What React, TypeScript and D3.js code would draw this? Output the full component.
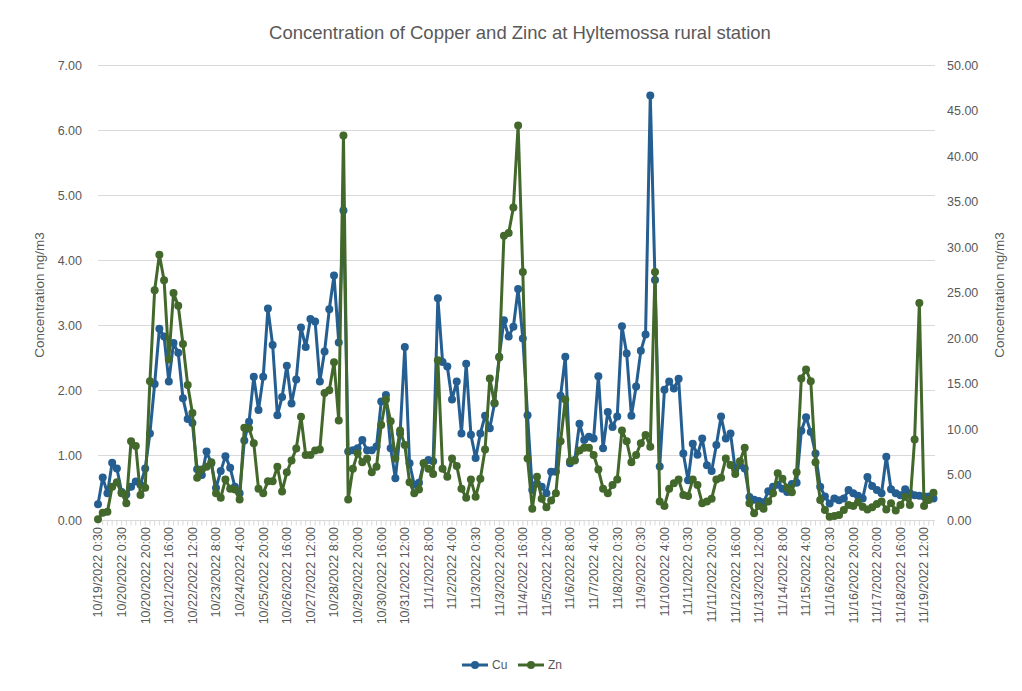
import React from "react";
import * as d3 from "d3";

// Category axis labels, one every five samples
const tickLabels = [
  "10/19/2022 0:30", "10/20/2022 0:30", "10/20/2022 20:00", "10/21/2022 16:00",
  "10/22/2022 12:00", "10/23/2022 8:00", "10/24/2022 4:00", "10/25/2022 20:00",
  "10/26/2022 16:00", "10/27/2022 12:00", "10/28/2022 8:00", "10/29/2022 20:00",
  "10/30/2022 16:00", "10/31/2022 12:00", "11/1/2022 8:00", "11/2/2022 4:00",
  "11/3/2022 0:30", "11/3/2022 20:00", "11/4/2022 16:00", "11/5/2022 12:00",
  "11/6/2022 8:00", "11/7/2022 4:00", "11/8/2022 0:30", "11/9/2022 0:30",
  "11/10/2022 4:00", "11/11/2022 0:30", "11/11/2022 20:00", "11/12/2022 16:00",
  "11/13/2022 12:00", "11/14/2022 8:00", "11/15/2022 4:00", "11/16/2022 0:30",
  "11/16/2022 20:00", "11/17/2022 20:00", "11/18/2022 16:00", "11/19/2022 12:00",
];
const labelEvery = 5;

// Copper, ng/m3 (left axis)
const cu = [
  0.25, 0.66, 0.42, 0.89, 0.80, 0.44, 0.40, 0.52, 0.60, 0.55,
  0.80, 1.34, 2.10, 2.95, 2.83, 2.14, 2.73, 2.58, 1.88, 1.56,
  1.50, 0.79, 0.70, 1.06, 0.88, 0.50, 0.76, 0.99, 0.81, 0.52,
  0.42, 1.23, 1.52, 2.21, 1.70, 2.21, 3.26, 2.70, 1.62, 1.90,
  2.38, 1.80, 2.17, 2.97, 2.67, 3.10, 3.06, 2.14, 2.60, 3.25,
  3.77, 2.74, 4.77, 1.06, 1.08, 1.11, 1.24, 1.08, 1.08, 1.14,
  1.83, 1.93, 1.11, 0.65, 1.34, 2.67, 0.88, 0.55, 0.58, 0.88,
  0.93, 0.91, 3.42, 2.44, 2.37, 1.86, 2.14, 1.34, 2.41, 1.32,
  0.96, 1.34, 1.61, 1.42, 1.80, 2.52, 3.08, 2.83, 2.98, 3.56,
  2.80, 1.62, 0.47, 0.57, 0.52, 0.42, 0.75, 0.75, 1.92, 2.52,
  0.88, 0.93, 1.49, 1.24, 1.29, 1.26, 2.22, 1.11, 1.67, 1.44,
  1.60, 2.99, 2.57, 1.61, 2.06, 2.61, 2.86, 6.54, 3.70, 0.83,
  2.01, 2.14, 2.03, 2.18, 1.03, 0.62, 1.18, 1.01, 1.26, 0.85,
  0.76, 1.16, 1.60, 1.26, 1.34, 0.78, 0.85, 0.80, 0.36, 0.32,
  0.30, 0.28, 0.45, 0.52, 0.55, 0.49, 0.44, 0.56, 0.58, 1.38,
  1.59, 1.36, 1.03, 0.52, 0.37, 0.26, 0.34, 0.31, 0.34, 0.47,
  0.42, 0.38, 0.34, 0.67, 0.53, 0.47, 0.42, 0.98, 0.48, 0.42,
  0.39, 0.48, 0.42, 0.39, 0.38, 0.37, 0.37, 0.34,
];

// Zinc, ng/m3 (right axis)
const zn = [
  0.13, 0.86, 0.97, 3.7, 4.2, 3.0, 1.9, 8.7, 8.2, 2.8,
  3.6, 15.3, 25.3, 29.2, 26.4, 17.7, 25.0, 23.6, 19.4, 14.9,
  11.8, 4.7, 5.6, 5.9, 6.4, 3.0, 2.5, 4.5, 3.5, 3.4,
  2.3, 10.2, 10.1, 8.5, 3.5, 3.0, 4.3, 4.3, 5.9, 3.2,
  5.3, 6.6, 7.9, 11.4, 7.2, 7.2, 7.7, 7.8, 14.0, 14.3,
  17.4, 11.0, 42.3, 2.3, 5.7, 7.4, 6.4, 6.8, 5.3, 5.9,
  10.5, 13.3, 10.9, 6.8, 9.9, 8.3, 4.2, 3.0, 3.4, 6.3,
  5.7, 5.1, 17.6, 5.7, 4.8, 6.8, 6.0, 3.5, 2.5, 4.5,
  2.6, 4.6, 7.8, 15.6, 12.9, 17.9, 31.3, 31.6, 34.4, 43.4,
  27.3, 6.8, 1.3, 4.8, 2.4, 1.45, 2.2, 3.0, 8.7, 13.3,
  6.5, 6.6, 7.7, 8.0, 8.0, 7.2, 5.6, 3.5, 3.0, 3.9,
  4.5, 9.9, 8.7, 6.4, 7.2, 8.5, 9.4, 8.1, 27.3, 2.1,
  1.6, 3.5, 4.1, 4.5, 2.8, 2.7, 4.5, 3.9, 1.9, 2.1,
  2.4, 4.5, 4.7, 6.8, 6.1, 5.1, 6.5, 8.0, 1.9, 0.8,
  1.6, 1.3, 2.1, 3.0, 5.2, 4.6, 3.6, 3.1, 5.3, 15.6,
  16.6, 15.3, 6.4, 2.25, 1.15, 0.4, 0.5, 0.6, 1.15, 1.7,
  1.6, 2.0, 1.5, 1.2, 1.45, 1.8, 2.1, 1.2, 1.9, 1.1,
  1.7, 2.6, 1.7, 8.9, 23.9, 1.6, 2.25, 3.05,
];

const leftTicks = [0, 1, 2, 3, 4, 5, 6, 7];
const rightTicks = [0, 5, 10, 15, 20, 25, 30, 35, 40, 45, 50];

const seriesMeta = [
  { name: "Cu", values: cu, axis: "left", color: "#255e91" },
  { name: "Zn", values: zn, axis: "right", color: "#43682b" },
];

const W = 1022;
const H = 691;
const M = { left: 98, right: 933.5, top: 65.5, bottom: 520.5 };
const FONT = "'Liberation Sans', Arial, sans-serif";
const TEXT = "#595959";
const GRID = "#d9d9d9";
const R = 4;

export default function App() {
  const n = cu.length;
  const x = d3.scaleLinear().domain([0, n - 1]).range([M.left, M.right]);
  const yL = d3.scaleLinear().domain([0, 7]).range([M.bottom, M.top]);
  const yR = d3.scaleLinear().domain([0, 50]).range([M.bottom, M.top]);

  const lineL = d3.line<number>().x((_, i) => x(i)).y((d) => yL(d));
  const lineR = d3.line<number>().x((_, i) => x(i)).y((d) => yR(d));

  const idx = d3.range(n);

  return (
    <svg
      width={W}
      height={H}
      style={{ position: "absolute", left: 0, top: 0, background: "#fff" }}
      fontFamily={FONT}
    >
      <rect x={0} y={0} width={W} height={H} fill="#fff" />
      <text x={520} y={39} textAnchor="middle" fontSize={18.5} fill={TEXT}>
        Concentration of Copper and Zinc at Hyltemossa rural station
      </text>

      {/* horizontal gridlines from the primary axis */}
      {leftTicks.map((t) => (
        <line key={"g" + t} x1={M.left} x2={M.right + 1.5} y1={yL(t)} y2={yL(t)} stroke={GRID} strokeWidth={1} />
      ))}

      {/* category tick marks */}
      {idx.map((i) => (
        <line key={"t" + i} x1={x(i)} x2={x(i)} y1={M.bottom} y2={M.bottom + 5} stroke={GRID} strokeWidth={1} />
      ))}

      {/* left axis labels */}
      {leftTicks.map((t) => (
        <text key={"l" + t} x={82} y={yL(t)} dy="0.35em" textAnchor="end" fontSize={12.5} fill={TEXT}>
          {t.toFixed(2)}
        </text>
      ))}
      {/* right axis labels */}
      {rightTicks.map((t) => (
        <text key={"r" + t} x={947} y={yR(t)} dy="0.35em" textAnchor="start" fontSize={12.5} fill={TEXT}>
          {t.toFixed(2)}
        </text>
      ))}

      {/* category labels */}
      {tickLabels.map((lab, k) => {
        const cx = x(k * labelEvery);
        return (
          <text
            key={"c" + k}
            transform={`translate(${cx},527) rotate(-90)`}
            dy="0.35em"
            textAnchor="end"
            fontSize={12.5}
            fill={TEXT}
          >
            {lab}
          </text>
        );
      })}

      {/* axis titles */}
      <text transform="translate(44,295) rotate(-90)" textAnchor="middle" fontSize={13.5} fill={TEXT}>
        Concentration ng/m3
      </text>
      <text transform="translate(1004,295) rotate(-90)" textAnchor="middle" fontSize={13.5} fill={TEXT}>
        Concentration ng/m3
      </text>

      {/* series */}
      {seriesMeta.map((s) => {
        const ln = s.axis === "left" ? lineL : lineR;
        const ys = s.axis === "left" ? yL : yR;
        return (
          <g key={s.name}>
            <path d={ln(s.values) || ""} fill="none" stroke={s.color} strokeWidth={3} strokeLinejoin="round" />
            {s.values.map((v, i) => (
              <circle key={i} cx={x(i)} cy={ys(v)} r={R} fill={s.color} />
            ))}
          </g>
        );
      })}

      {/* legend */}
      {seriesMeta.map((s, k) => {
        const lx = 462 + k * 56;
        return (
          <g key={"lg" + s.name}>
            <line x1={lx} x2={lx + 26} y1={665} y2={665} stroke={s.color} strokeWidth={3} />
            <circle cx={lx + 13} cy={665} r={R} fill={s.color} />
            <text x={lx + 30} y={665} dy="0.35em" fontSize={12} fill={TEXT}>
              {s.name}
            </text>
          </g>
        );
      })}
    </svg>
  );
}
